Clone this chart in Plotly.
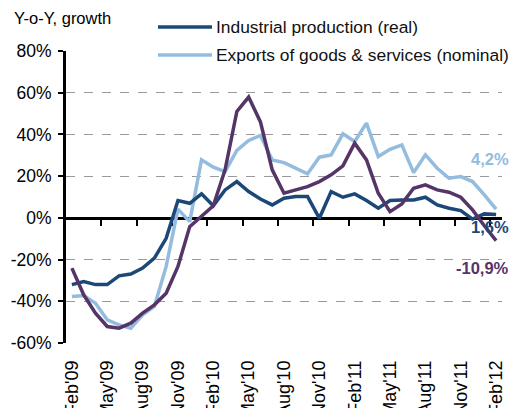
import plotly.graph_objects as go

months = ["Feb'09", "Mar'09", "Apr'09", "May'09", "Jun'09", "Jul'09", "Aug'09", "Sep'09", "Oct'09",
          "Nov'09", "Dec'09", "Jan'10", "Feb'10", "Mar'10", "Apr'10", "May'10", "Jun'10", "Jul'10",
          "Aug'10", "Sep'10", "Oct'10", "Nov'10", "Dec'10", "Jan'11", "Feb'11", "Mar'11", "Apr'11",
          "May'11", "Jun'11", "Jul'11", "Aug'11", "Sep'11", "Oct'11", "Nov'11", "Dec'11", "Jan'12", "Feb'12"]

industrial = [-32.0, -30.5, -32.0, -32.0, -27.8, -26.9, -24.1, -19.3, -9.8, 8.3, 7.0, 11.5, 5.8,
              13.4, 17.4, 12.6, 9.0, 6.2, 9.4, 10.2, 10.2, -0.2, 12.6, 9.9, 11.5, 8.3, 4.6, 8.3,
              8.6, 8.6, 9.9, 6.2, 4.6, 3.5, -0.6, 1.9, 1.6]

exports = [-37.7, -37.2, -40.9, -48.9, -51.3, -52.9, -46.5, -42.5, -23.3, 4.2, -1.8, 27.8, 24.3,
           22.2, 32.3, 37.1, 39.5, 27.8, 26.5, 23.8, 21.1, 29.1, 30.2, 40.3, 36.6, 45.4, 29.4,
           32.9, 35.0, 21.7, 30.2, 23.8, 19.0, 19.8, 17.4, 11.0, 4.2]

third = [-24.1, -36.9, -45.7, -52.1, -52.9, -50.5, -45.7, -41.7, -36.1, -23.3, -4.2, 0.6, 5.8,
         23.0, 51.0, 57.9, 46.0, 23.0, 11.8, 13.4, 15.0, 17.4, 20.6, 24.9, 35.8, 27.8, 11.8,
         3.0, 6.7, 14.2, 15.8, 13.4, 12.3, 9.9, 3.8, -3.8, -10.9]

series_names = ["Industrial production (real)", "Exports of goods & services (nominal)", ""]

y_ticks = [-60, -40, -20, 0, 20, 40, 60, 80]
y_tick_text = ["-60%", "-40%", "-20%", "0%", "20%", "40%", "60%", "80%"]
x_label_idx = list(range(0, 37, 3))
x_labels = [months[i] for i in x_label_idx]
x_tick_bounds = [i + 2.5 for i in range(0, 34, 3)]

C_DARK = "#1c4878"
C_LIGHT = "#93bcde"
C_PURPLE = "#553468"
FONT = "Liberation Sans, Arial, sans-serif"

W, H = 511, 408
ML, MR, MT, MB = 66, 9, 51, 65
PW, PH = W - ML - MR, H - MT - MB


def px_x(px):
    return (px - ML) / PW


def px_y(py):
    return (H - MB - py) / PH


x = list(range(len(months)))

fig = go.Figure()
fig.add_trace(go.Scatter(x=x, y=exports, mode="lines", name=series_names[1],
                         line=dict(color=C_LIGHT, width=3.5), showlegend=False))
fig.add_trace(go.Scatter(x=x, y=industrial, mode="lines", name=series_names[0],
                         line=dict(color=C_DARK, width=3.5), showlegend=False))
fig.add_trace(go.Scatter(x=x, y=third, mode="lines", name="third",
                         line=dict(color=C_PURPLE, width=3.5), showlegend=False))
# helper trace creating the overlay axis that draws the zero line with its tick marks
fig.add_trace(go.Scatter(x=[x[0]], y=[0], mode="lines", xaxis="x2", showlegend=False,
                         hoverinfo="skip", line=dict(width=0)))

fig.update_layout(
    width=W, height=H,
    margin=dict(l=ML, r=MR, t=MT, b=MB, autoexpand=False),
    paper_bgcolor="white", plot_bgcolor="white",
    font=dict(family=FONT, color="#000000", size=16),
    xaxis=dict(range=[-0.5, 36.5], tickmode="array", tickvals=x_label_idx, ticktext=x_labels,
               tickangle=-90, showgrid=False, zeroline=False, showline=False, ticks="",
               ticklabelstandoff=13, tickfont=dict(size=18), automargin=False),
    xaxis2=dict(range=[-0.5, 36.5], overlaying="x", anchor="free",
                position=(0 - y_ticks[0]) / (y_ticks[-1] - y_ticks[0]),
                side="bottom", showline=True, linecolor="black", linewidth=3,
                ticks="outside", ticklen=6, tickwidth=2, tickcolor="black",
                tickmode="array", tickvals=x_tick_bounds, showticklabels=False,
                showgrid=False, zeroline=False, layer="below traces", automargin=False),
    yaxis=dict(range=[y_ticks[0], y_ticks[-1]], tickmode="array", tickvals=y_ticks,
               ticktext=y_tick_text, showgrid=True, gridcolor="#9a9a9a", griddash="dash",
               gridwidth=1, zeroline=False, showline=True, linecolor="black", linewidth=3,
               ticks="outside", ticklen=5, tickwidth=2, tickcolor="black",
               ticklabelstandoff=3, tickfont=dict(size=17.5), automargin=False),
    showlegend=False,
)

annotations = [
    dict(text="Y-o-Y, growth", xref="paper", yref="paper", x=px_x(12), y=px_y(18),
         xanchor="left", yanchor="middle", showarrow=False, font=dict(size=16.5)),
]
shapes = []
legend_rows = [(series_names[0], C_DARK, 27), (series_names[1], C_LIGHT, 55)]
for name, col, ry in legend_rows:
    shapes.append(dict(type="line", xref="paper", yref="paper", x0=px_x(158), x1=px_x(212),
                       y0=px_y(ry), y1=px_y(ry), line=dict(color=col, width=3.5)))
    annotations.append(dict(text=name, xref="paper", yref="paper", x=px_x(214), y=px_y(ry),
                            xanchor="left", yanchor="middle", showarrow=False,
                            font=dict(size=17.4, color="#111111")))

end_labels = [(exports[-1], C_LIGHT, 50), (industrial[-1], C_DARK, -12), (third[-1], C_PURPLE, -27)]
for v, col, shift in end_labels:
    annotations.append(dict(text="<b>" + f"{v:.1f}".replace(".", ",") + "%</b>", xref="paper",
                            yref="y", x=px_x(511), y=v, yshift=shift, xanchor="right",
                            yanchor="middle", showarrow=False,
                            font=dict(size=16.5, color=col, family=FONT)))

fig.update_layout(annotations=annotations, shapes=shapes)
fig.write_html("out.html")
